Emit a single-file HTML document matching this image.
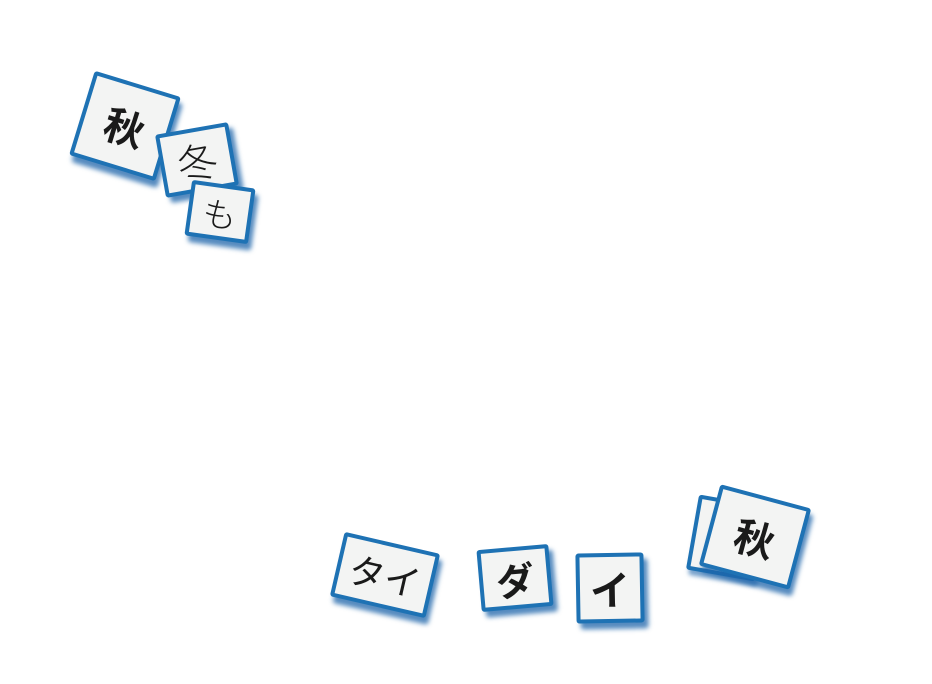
<!DOCTYPE html>
<html><head><meta charset="utf-8"><style>
html,body{margin:0;padding:0;background:#fff;width:932px;height:684px;overflow:hidden;position:relative}
.t{position:absolute;background:#f3f4f3;border:4px solid #1e72b4;border-radius:3px;box-shadow:4px 6px 5px rgba(30,100,170,.75);display:flex;align-items:center;justify-content:center;font-family:"Liberation Sans","Noto Sans CJK JP",sans-serif;color:#1a1a1a;box-sizing:border-box}
</style></head><body>
<div class="t" style="left:80px;top:82px;width:90px;height:88px;transform:rotate(17deg);font-size:40px;font-weight:bold">秋</div>
<div class="t" style="left:160px;top:128px;width:74px;height:64px;transform:rotate(-10deg);font-size:40px;font-weight:300">冬</div>
<div class="t" style="left:188px;top:184px;width:64px;height:56px;transform:rotate(8deg);font-size:34px;font-weight:300">も</div>
<div class="t" style="left:336px;top:542px;width:98px;height:66px;transform:rotate(13deg);font-size:36px;font-weight:400">タイ</div>
<div class="t" style="left:479px;top:547px;width:72px;height:62px;transform:rotate(-5deg);font-size:38px;font-weight:bold">ダ</div>
<div class="t" style="left:576px;top:553px;width:68px;height:70px;transform:rotate(-1deg);font-size:40px;font-weight:bold">イ</div>
<div class="t" style="left:692px;top:500px;width:70px;height:76px;transform:rotate(10deg);box-shadow:3px 5px 4px rgba(30,100,170,.6)"></div>
<div class="t" style="left:708px;top:495px;width:94px;height:84px;transform:rotate(15deg);font-size:40px;font-weight:bold">秋</div>
</body></html>
